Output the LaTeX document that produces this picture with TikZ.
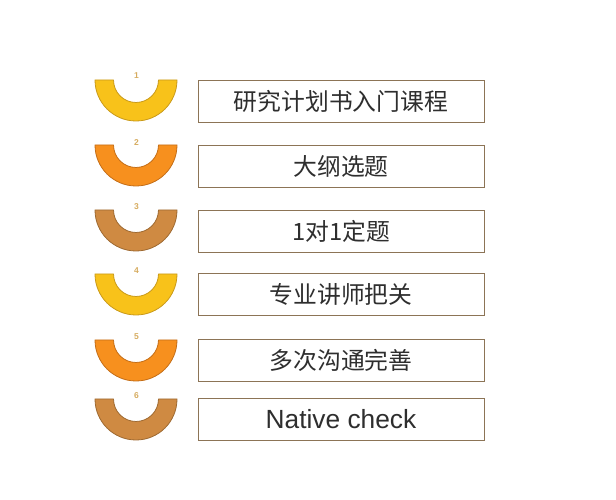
\documentclass[tikz,border=0pt]{standalone}
\usepackage{fontspec}
\newfontfamily\cjk{Noto Sans CJK SC}
\newfontfamily\latin{Liberation Sans}
\definecolor{cyel}{HTML}{F8C21A}
\definecolor{cyeld}{HTML}{C99A1A}
\definecolor{cora}{HTML}{F7901E}
\definecolor{corad}{HTML}{C46E18}
\definecolor{cbro}{HTML}{CF8A42}
\definecolor{cbrod}{HTML}{9E6A32}
\definecolor{cbox}{HTML}{8C7456}
\definecolor{cnum}{HTML}{D6AC60}
\definecolor{ctext}{HTML}{2E2E2E}
\tikzset{
  stepbox/.style={draw=cbox, line width=0.9pt, fill=white, minimum width=286pt, minimum height=42pt, inner sep=0pt, text=ctext, font=\cjk\fontsize{23.8}{26}\selectfont},
  numlabel/.style={text=cnum, font=\latin\bfseries\fontsize{8.5}{9}\selectfont, inner sep=0pt},
  bowl/.style={line width=0.8pt, line join=round}
}
\newcommand{\bowlshape}[4]{% cx, cy(top), fill, draw
  \path[bowl, fill=#3, draw=#4] (#1-41, #2) arc[start angle=180, end angle=360, radius=41]
    -- (#1+22.5, #2) arc[start angle=0, end angle=-180, radius=22.5] -- cycle;
}
\begin{document}
\begin{tikzpicture}[x=1pt, y=1pt]
\useasboundingbox (0,0) rectangle (616,500);
\bowlshape{136}{420}{cyel}{cyeld}
\bowlshape{136}{355}{cora}{corad}
\bowlshape{136}{290}{cbro}{cbrod}
\bowlshape{136}{226}{cyel}{cyeld}
\bowlshape{136}{160}{cora}{corad}
\bowlshape{136}{101}{cbro}{cbrod}
\node[numlabel] (n1) at (136.5, 424) {1};
\node[numlabel] (n2) at (136.5, 357.5) {2};
\node[numlabel] (n3) at (136.5, 293) {3};
\node[numlabel] (n4) at (136.5, 229) {4};
\node[numlabel] (n5) at (136.5, 163) {5};
\node[numlabel] (n6) at (136.5, 104) {6};
\node[stepbox] (b1) at (341, 399) {研究计划书入门课程};
\node[stepbox] (b2) at (341, 334) {大纲选题};
\node[stepbox] (b3) at (341, 269) {1对1定题};
\node[stepbox] (b4) at (341, 205.5) {专业讲师把关};
\node[stepbox] (b5) at (341, 139.5) {多次沟通完善};
\node[stepbox, font=\latin\fontsize{26.3}{28}\selectfont] (b6) at (341, 81) {Native check};
\end{tikzpicture}
\end{document}
